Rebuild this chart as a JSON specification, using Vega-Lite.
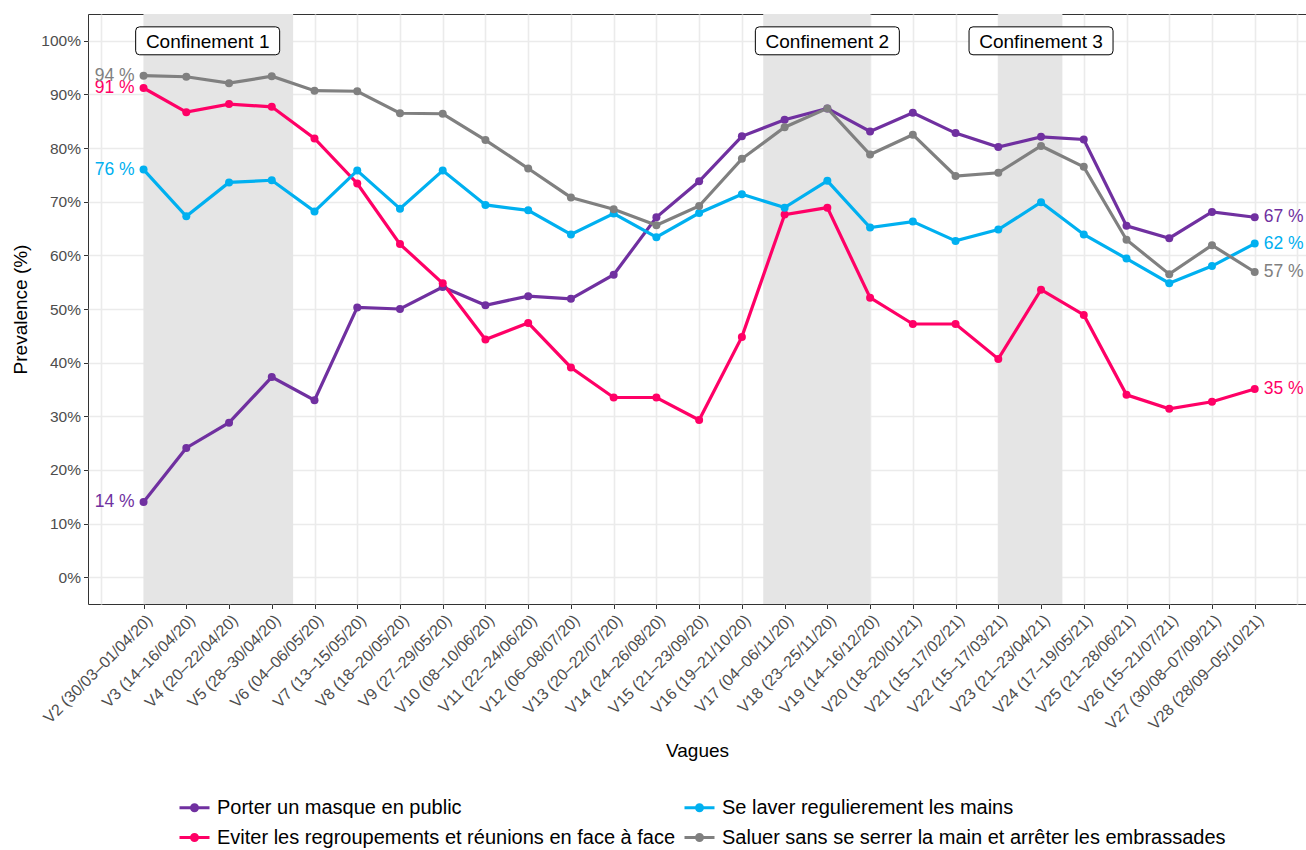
{
  "$schema": "https://vega.github.io/schema/vega-lite/v6.json",
  "width": 1218,
  "height": 590,
  "autosize": "none",
  "padding": {"left": 88, "top": 14, "right": 0, "bottom": 246},
  "background": "white",
  "config": {
    "font": "Liberation Sans",
    "view": {"stroke": "#333333", "strokeWidth": 1},
    "axis": {"domain": false, "labelFont": "Liberation Sans", "titleFont": "Liberation Sans", "labelColor": "#4D4D4D", "titleColor": "black", "titleFontWeight": "normal", "tickColor": "#333333", "gridColor": "#EBEBEB"}
  },
  "datasets": {
    "series": [
      {"vague": 2, "mesure": "Porter un masque en public", "pct": 14.0},
      {"vague": 3, "mesure": "Porter un masque en public", "pct": 24.1},
      {"vague": 4, "mesure": "Porter un masque en public", "pct": 28.8},
      {"vague": 5, "mesure": "Porter un masque en public", "pct": 37.3},
      {"vague": 6, "mesure": "Porter un masque en public", "pct": 33.0},
      {"vague": 7, "mesure": "Porter un masque en public", "pct": 50.3},
      {"vague": 8, "mesure": "Porter un masque en public", "pct": 50.0},
      {"vague": 9, "mesure": "Porter un masque en public", "pct": 54.1},
      {"vague": 10, "mesure": "Porter un masque en public", "pct": 50.7},
      {"vague": 11, "mesure": "Porter un masque en public", "pct": 52.4},
      {"vague": 12, "mesure": "Porter un masque en public", "pct": 51.9},
      {"vague": 13, "mesure": "Porter un masque en public", "pct": 56.4},
      {"vague": 14, "mesure": "Porter un masque en public", "pct": 67.1},
      {"vague": 15, "mesure": "Porter un masque en public", "pct": 73.8},
      {"vague": 16, "mesure": "Porter un masque en public", "pct": 82.2},
      {"vague": 17, "mesure": "Porter un masque en public", "pct": 85.3},
      {"vague": 18, "mesure": "Porter un masque en public", "pct": 87.4},
      {"vague": 19, "mesure": "Porter un masque en public", "pct": 83.1},
      {"vague": 20, "mesure": "Porter un masque en public", "pct": 86.6},
      {"vague": 21, "mesure": "Porter un masque en public", "pct": 82.8},
      {"vague": 22, "mesure": "Porter un masque en public", "pct": 80.2},
      {"vague": 23, "mesure": "Porter un masque en public", "pct": 82.1},
      {"vague": 24, "mesure": "Porter un masque en public", "pct": 81.6},
      {"vague": 25, "mesure": "Porter un masque en public", "pct": 65.5},
      {"vague": 26, "mesure": "Porter un masque en public", "pct": 63.2},
      {"vague": 27, "mesure": "Porter un masque en public", "pct": 68.1},
      {"vague": 28, "mesure": "Porter un masque en public", "pct": 67.1},
      {"vague": 2, "mesure": "Eviter les regroupements et réunions en face à face", "pct": 91.2},
      {"vague": 3, "mesure": "Eviter les regroupements et réunions en face à face", "pct": 86.7},
      {"vague": 4, "mesure": "Eviter les regroupements et réunions en face à face", "pct": 88.2},
      {"vague": 5, "mesure": "Eviter les regroupements et réunions en face à face", "pct": 87.7},
      {"vague": 6, "mesure": "Eviter les regroupements et réunions en face à face", "pct": 81.8},
      {"vague": 7, "mesure": "Eviter les regroupements et réunions en face à face", "pct": 73.4},
      {"vague": 8, "mesure": "Eviter les regroupements et réunions en face à face", "pct": 62.1},
      {"vague": 9, "mesure": "Eviter les regroupements et réunions en face à face", "pct": 54.8},
      {"vague": 10, "mesure": "Eviter les regroupements et réunions en face à face", "pct": 44.3},
      {"vague": 11, "mesure": "Eviter les regroupements et réunions en face à face", "pct": 47.4},
      {"vague": 12, "mesure": "Eviter les regroupements et réunions en face à face", "pct": 39.1},
      {"vague": 13, "mesure": "Eviter les regroupements et réunions en face à face", "pct": 33.5},
      {"vague": 14, "mesure": "Eviter les regroupements et réunions en face à face", "pct": 33.5},
      {"vague": 15, "mesure": "Eviter les regroupements et réunions en face à face", "pct": 29.3},
      {"vague": 16, "mesure": "Eviter les regroupements et réunions en face à face", "pct": 44.8},
      {"vague": 17, "mesure": "Eviter les regroupements et réunions en face à face", "pct": 67.6},
      {"vague": 18, "mesure": "Eviter les regroupements et réunions en face à face", "pct": 68.9},
      {"vague": 19, "mesure": "Eviter les regroupements et réunions en face à face", "pct": 52.1},
      {"vague": 20, "mesure": "Eviter les regroupements et réunions en face à face", "pct": 47.2},
      {"vague": 21, "mesure": "Eviter les regroupements et réunions en face à face", "pct": 47.2},
      {"vague": 22, "mesure": "Eviter les regroupements et réunions en face à face", "pct": 40.7},
      {"vague": 23, "mesure": "Eviter les regroupements et réunions en face à face", "pct": 53.6},
      {"vague": 24, "mesure": "Eviter les regroupements et réunions en face à face", "pct": 48.9},
      {"vague": 25, "mesure": "Eviter les regroupements et réunions en face à face", "pct": 34.0},
      {"vague": 26, "mesure": "Eviter les regroupements et réunions en face à face", "pct": 31.4},
      {"vague": 27, "mesure": "Eviter les regroupements et réunions en face à face", "pct": 32.7},
      {"vague": 28, "mesure": "Eviter les regroupements et réunions en face à face", "pct": 35.1},
      {"vague": 2, "mesure": "Se laver regulierement les mains", "pct": 76.0},
      {"vague": 3, "mesure": "Se laver regulierement les mains", "pct": 67.3},
      {"vague": 4, "mesure": "Se laver regulierement les mains", "pct": 73.6},
      {"vague": 5, "mesure": "Se laver regulierement les mains", "pct": 74.0},
      {"vague": 6, "mesure": "Se laver regulierement les mains", "pct": 68.2},
      {"vague": 7, "mesure": "Se laver regulierement les mains", "pct": 75.8},
      {"vague": 8, "mesure": "Se laver regulierement les mains", "pct": 68.7},
      {"vague": 9, "mesure": "Se laver regulierement les mains", "pct": 75.8},
      {"vague": 10, "mesure": "Se laver regulierement les mains", "pct": 69.4},
      {"vague": 11, "mesure": "Se laver regulierement les mains", "pct": 68.4},
      {"vague": 12, "mesure": "Se laver regulierement les mains", "pct": 63.9},
      {"vague": 13, "mesure": "Se laver regulierement les mains", "pct": 67.8},
      {"vague": 14, "mesure": "Se laver regulierement les mains", "pct": 63.4},
      {"vague": 15, "mesure": "Se laver regulierement les mains", "pct": 67.9},
      {"vague": 16, "mesure": "Se laver regulierement les mains", "pct": 71.4},
      {"vague": 17, "mesure": "Se laver regulierement les mains", "pct": 68.9},
      {"vague": 18, "mesure": "Se laver regulierement les mains", "pct": 73.9},
      {"vague": 19, "mesure": "Se laver regulierement les mains", "pct": 65.2},
      {"vague": 20, "mesure": "Se laver regulierement les mains", "pct": 66.3},
      {"vague": 21, "mesure": "Se laver regulierement les mains", "pct": 62.7},
      {"vague": 22, "mesure": "Se laver regulierement les mains", "pct": 64.8},
      {"vague": 23, "mesure": "Se laver regulierement les mains", "pct": 69.9},
      {"vague": 24, "mesure": "Se laver regulierement les mains", "pct": 63.9},
      {"vague": 25, "mesure": "Se laver regulierement les mains", "pct": 59.4},
      {"vague": 26, "mesure": "Se laver regulierement les mains", "pct": 54.8},
      {"vague": 27, "mesure": "Se laver regulierement les mains", "pct": 58.0},
      {"vague": 28, "mesure": "Se laver regulierement les mains", "pct": 62.2},
      {"vague": 2, "mesure": "Saluer sans se serrer la main et arrêter les embrassades", "pct": 93.5},
      {"vague": 3, "mesure": "Saluer sans se serrer la main et arrêter les embrassades", "pct": 93.3},
      {"vague": 4, "mesure": "Saluer sans se serrer la main et arrêter les embrassades", "pct": 92.1},
      {"vague": 5, "mesure": "Saluer sans se serrer la main et arrêter les embrassades", "pct": 93.4},
      {"vague": 6, "mesure": "Saluer sans se serrer la main et arrêter les embrassades", "pct": 90.7},
      {"vague": 7, "mesure": "Saluer sans se serrer la main et arrêter les embrassades", "pct": 90.6},
      {"vague": 8, "mesure": "Saluer sans se serrer la main et arrêter les embrassades", "pct": 86.5},
      {"vague": 9, "mesure": "Saluer sans se serrer la main et arrêter les embrassades", "pct": 86.4},
      {"vague": 10, "mesure": "Saluer sans se serrer la main et arrêter les embrassades", "pct": 81.5},
      {"vague": 11, "mesure": "Saluer sans se serrer la main et arrêter les embrassades", "pct": 76.2},
      {"vague": 12, "mesure": "Saluer sans se serrer la main et arrêter les embrassades", "pct": 70.8},
      {"vague": 13, "mesure": "Saluer sans se serrer la main et arrêter les embrassades", "pct": 68.6},
      {"vague": 14, "mesure": "Saluer sans se serrer la main et arrêter les embrassades", "pct": 65.6},
      {"vague": 15, "mesure": "Saluer sans se serrer la main et arrêter les embrassades", "pct": 69.2},
      {"vague": 16, "mesure": "Saluer sans se serrer la main et arrêter les embrassades", "pct": 78.0},
      {"vague": 17, "mesure": "Saluer sans se serrer la main et arrêter les embrassades", "pct": 83.9},
      {"vague": 18, "mesure": "Saluer sans se serrer la main et arrêter les embrassades", "pct": 87.4},
      {"vague": 19, "mesure": "Saluer sans se serrer la main et arrêter les embrassades", "pct": 78.8},
      {"vague": 20, "mesure": "Saluer sans se serrer la main et arrêter les embrassades", "pct": 82.5},
      {"vague": 21, "mesure": "Saluer sans se serrer la main et arrêter les embrassades", "pct": 74.8},
      {"vague": 22, "mesure": "Saluer sans se serrer la main et arrêter les embrassades", "pct": 75.4},
      {"vague": 23, "mesure": "Saluer sans se serrer la main et arrêter les embrassades", "pct": 80.4},
      {"vague": 24, "mesure": "Saluer sans se serrer la main et arrêter les embrassades", "pct": 76.5},
      {"vague": 25, "mesure": "Saluer sans se serrer la main et arrêter les embrassades", "pct": 62.9},
      {"vague": 26, "mesure": "Saluer sans se serrer la main et arrêter les embrassades", "pct": 56.5},
      {"vague": 27, "mesure": "Saluer sans se serrer la main et arrêter les embrassades", "pct": 61.9},
      {"vague": 28, "mesure": "Saluer sans se serrer la main et arrêter les embrassades", "pct": 56.9}
    ],
    "confinements": [
      {"nom": "Confinement 1", "debut": 2, "fin": 5.5, "label_x": 3.5},
      {"nom": "Confinement 2", "debut": 16.5, "fin": 19, "label_x": 18},
      {"nom": "Confinement 3", "debut": 22, "fin": 23.5, "label_x": 23}
    ]
  },
  "layer": [
    {
      "data": {"name": "confinements"},
      "mark": {"type": "rect", "color": "#E5E5E5"},
      "encoding": {
        "x": {"field": "debut", "type": "quantitative", "title": "Vagues",
          "scale": {"domain": [0.7, 29.2], "nice": false, "zero": false},
          "axis": {
            "values": [1,1.5,2,2.5,3,3.5,4,4.5,5,5.5,6,6.5,7,7.5,8,8.5,9,9.5,10,10.5,11,11.5,12,12.5,13,13.5,14,14.5,15,15.5,16,16.5,17,17.5,18,18.5,19,19.5,20,20.5,21,21.5,22,22.5,23,23.5,24,24.5,25,25.5,26,26.5,27,27.5,28,28.5,29],
            "labelExpr": "datum.value >= 2 && datum.value <= 28 && datum.value % 1 === 0 ? ['V2 (30/03–01/04/20)','V3 (14–16/04/20)','V4 (20–22/04/20)','V5 (28–30/04/20)','V6 (04–06/05/20)','V7 (13–15/05/20)','V8 (18–20/05/20)','V9 (27–29/05/20)','V10 (08–10/06/20)','V11 (22–24/06/20)','V12 (06–08/07/20)','V13 (20–22/07/20)','V14 (24–26/08/20)','V15 (21–23/09/20)','V16 (19–21/10/20)','V17 (04–06/11/20)','V18 (23–25/11/20)','V19 (14–16/12/20)','V20 (18–20/01/21)','V21 (15–17/02/21)','V22 (15–17/03/21)','V23 (21–23/04/21)','V24 (17–19/05/21)','V25 (21–28/06/21)','V26 (15–21/07/21)','V27 (30/08–07/09/21)','V28 (28/09–05/10/21)'][datum.value - 2] : ''",
            "labelAngle": -45, "labelAlign": "right", "labelBaseline": "top",
            "labelFontSize": 16, "labelPadding": 3, "labelOverlap": false, "labelLimit": 400,
            "tickSize": 4.5, "tickWidth": 1,
            "tickOpacity": {"condition": {"test": "datum.value >= 2 && datum.value <= 28 && datum.value % 1 === 0", "value": 1}, "value": 0},
            "gridWidth": {"condition": {"test": "datum.value % 1 === 0", "value": 1.6}, "value": 0.8},
            "titleFontSize": 19, "titlePadding": 9
          }
        },
        "x2": {"field": "fin"}
      }
    },
    {
      "data": {"name": "series"},
      "mark": {"type": "line", "strokeWidth": 3.2},
      "encoding": {
        "x": {"field": "vague", "type": "quantitative", "title": "Vagues"},
        "y": {"field": "pct", "type": "quantitative", "title": "Prevalence (%)",
          "scale": {"domain": [-5, 105], "nice": false, "zero": false},
          "axis": {
            "values": [0,5,10,15,20,25,30,35,40,45,50,55,60,65,70,75,80,85,90,95,100],
            "labelExpr": "datum.value % 10 === 0 ? datum.value + '%' : ''",
            "labelFontSize": 15.5, "labelPadding": 3,
            "tickSize": 4.5, "tickWidth": 1,
            "tickOpacity": {"condition": {"test": "datum.value % 10 === 0", "value": 1}, "value": 0},
            "gridWidth": {"condition": {"test": "datum.value % 10 === 0", "value": 1.6}, "value": 0.8},
            "titleFontSize": 19, "titlePadding": 10
          }
        },
        "color": {"field": "mesure", "type": "nominal",
          "scale": {
            "domain": ["Porter un masque en public", "Se laver regulierement les mains", "Eviter les regroupements et réunions en face à face", "Saluer sans se serrer la main et arrêter les embrassades"],
            "range": ["#7030A0", "#00B0F0", "#FF0066", "#808080"]
          },
          "legend": {
            "orient": "none", "legendX": 90, "legendY": 777, "direction": "horizontal", "columns": 2, "title": null,
            "symbolType": "M-1,0L1,0M-0.2,0A0.2,0.2 0 1,0 0.2,0A0.2,0.2 0 1,0 -0.2,0Z",
            "symbolSize": 900, "symbolStrokeWidth": 3,
            "labelFont": "Liberation Sans", "labelFontSize": 20, "labelColor": "black", "labelOffset": 6, "labelLimit": 700,
            "columnPadding": 2, "rowPadding": 3, "padding": 0,
            "encode": {"symbols": {"update": {"fill": {"scale": "color", "field": "value"}, "stroke": {"scale": "color", "field": "value"}, "opacity": {"value": 1}}}}
          }
        }
      }
    },
    {
      "data": {"name": "series"},
      "mark": {"type": "point", "filled": true, "size": 64, "opacity": 1},
      "encoding": {
        "x": {"field": "vague", "type": "quantitative", "title": "Vagues"},
        "y": {"field": "pct", "type": "quantitative", "title": "Prevalence (%)"},
        "color": {"field": "mesure", "type": "nominal"}
      }
    },
    {
      "data": {"name": "series"},
      "transform": [
        {"filter": "datum.vague === 2"},
        {"calculate": "format(datum.pct, '.0f') + ' %'", "as": "etiquette"}
      ],
      "mark": {"type": "text", "align": "right", "baseline": "middle", "dx": -9, "fontSize": 17.5, "font": "Liberation Sans"},
      "encoding": {
        "x": {"field": "vague", "type": "quantitative", "title": "Vagues"},
        "y": {"field": "pct", "type": "quantitative", "title": "Prevalence (%)"},
        "text": {"field": "etiquette"},
        "color": {"field": "mesure", "type": "nominal"}
      }
    },
    {
      "data": {"name": "series"},
      "transform": [
        {"filter": "datum.vague === 28"},
        {"calculate": "format(datum.pct, '.0f') + ' %'", "as": "etiquette"}
      ],
      "mark": {"type": "text", "align": "left", "baseline": "middle", "dx": 9, "fontSize": 17.5, "font": "Liberation Sans"},
      "encoding": {
        "x": {"field": "vague", "type": "quantitative", "title": "Vagues"},
        "y": {"field": "pct", "type": "quantitative", "title": "Prevalence (%)"},
        "text": {"field": "etiquette"},
        "color": {"field": "mesure", "type": "nominal"}
      }
    },
    {
      "data": {"name": "confinements"},
      "mark": {"type": "point", "shape": "M-0.945,-0.194L0.945,-0.194Q1,-0.194 1,-0.139L1,0.139Q1,0.194 0.945,0.194L-0.945,0.194Q-1,0.194 -1,0.139L-1,-0.139Q-1,-0.194 -0.945,-0.194Z", "size": 20736, "filled": true, "fill": "white", "stroke": "black", "strokeWidth": 1, "opacity": 1},
      "encoding": {
        "x": {"field": "label_x", "type": "quantitative", "title": "Vagues"},
        "y": {"datum": 100, "type": "quantitative"}
      }
    },
    {
      "data": {"name": "confinements"},
      "mark": {"type": "text", "align": "center", "baseline": "middle", "dy": 1, "fontSize": 19, "font": "Liberation Sans", "color": "black"},
      "encoding": {
        "x": {"field": "label_x", "type": "quantitative", "title": "Vagues"},
        "y": {"datum": 100, "type": "quantitative"},
        "text": {"field": "nom"}
      }
    }
  ]
}
